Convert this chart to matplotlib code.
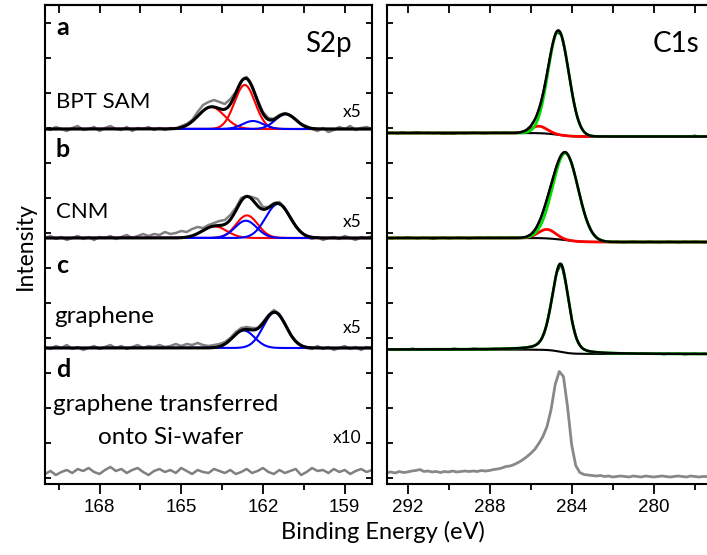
import numpy as np
import matplotlib.pyplot as plt
from matplotlib.ticker import MultipleLocator

plt.rcParams['font.family'] = ['Lato', 'DejaVu Sans']

RED, BLUE, GREEN = '#ff0000', '#0000ff', '#00dd00'

# S2p region, 170.0 -> 158.0 eV in 0.2 eV steps (intensity in plot units, above each baseline)
s2p_energy = np.linspace(170.0, 158.0, 61)

s2p_bpt = [1, -1, 2, 0, -2, 1, 3, -1, 0, 2,
           -2, 1, 3, 0, -1, 2, -2, 1, 0, 2,
           -1, 1, -1, 1, 0, 3, 5, 9, 17, 24,
           27, 29, 27, 25, 30, 37, 48, 52, 43, 29,
           17, 11, 10, 14, 16, 13, 10, 5, 3, 0,
           -2, 1, -3, -1, 2, 0, 3, -1, 1, 2,
           0]
s2p_cnm = [0, 2, -1, 1, -2, 0, 2, -1, 1, -2,
           1, 0, 2, -1, 1, 3, 0, 2, 4, 2,
           4, 3, 6, 4, 5, 7, 6, 9, 11, 10,
           13, 15, 17, 18, 23, 30, 40, 42, 41, 39,
           31, 31, 35, 36, 30, 20, 12, 6, 1, -1,
           1, -2, 0, 1, -1, 2, 0, -2, 1, 0,
           2]
s2p_graphene = [1, -1, 2, 0, 3, -1, 1, -2, 0, 2,
                -1, 1, 3, 0, 2, -1, 1, 3, 0, 2,
                1, 3, 1, 2, 4, 2, 4, 3, 5, 3,
                2, 3, 4, 6, 10, 16, 20, 21, 20, 20,
                26, 33, 38, 34, 25, 14, 7, 3, 0, -1,
                2, -1, 1, -2, 0, 2, -1, 1, -2, 1,
                0]
s2p_transfer = [-2, 1, -3, 0, 2, -1, 3, 1, 4, 0,
                -2, 2, 5, 1, 3, -1, 2, 4, 0, -3,
                1, 3, 0, 2, -1, 4, 1, -2, 2, 0,
                -1, 3, 1, -1, 2, -2, 0, 3, -1, 1,
                4, 0, -2, 2, -1, 1, 3, -3, 0, 4,
                1, 2, -1, 3, 0, 2, -2, 1, 3, 0,
                2]

# fitted S2p doublets: (center eV, height, FWHM eV, colour)
s2p_bpt_peaks = [(163.90, 22, 1.13, RED), (162.67, 44, 0.89, RED),
                 (162.37, 8, 0.89, BLUE), (161.17, 15, 0.89, BLUE)]
s2p_cnm_peaks = [(163.78, 11.6, 1.06, RED), (162.59, 22.6, 0.94, RED),
                 (162.63, 17.3, 0.94, BLUE), (161.45, 34, 1.06, BLUE)]
s2p_graphene_peaks = [(162.71, 17.5, 0.94, BLUE), (161.57, 35.5, 0.99, BLUE)]

s2p_offsets = [355, 246, 136, 12]

# C1s region, 293.0 -> 277.5 eV in 0.25 eV steps
c1s_energy = np.linspace(293.0, 277.5, 63)

c1s_bpt = [0, 0.5, -0.5, 1, 0, 0.5, 1, 0, 0.5, -0.5,
           0, -1, -0.5, -1, 0, -0.5, 0, 0.5, 0, -0.5,
           0, 0.5, 0, 0.5, 0, 0.5, 1, 2.5, 7, 15,
           30, 54, 82, 101, 98, 74, 43, 18, 4, -1.5,
           -3, -3.5, -4, -3.5, -3, -4, -3.5, -3, -4, -3.5,
           -3, -3.5, -4, -3, -3.5, -3, -4, -3.5, -3, -3.5,
           -2.5, -3.5, -3]
c1s_cnm = [0, -0.5, 0.5, 0, 1, 0, -0.5, 0.5, 0, -1,
           0, 0.5, -0.5, 0, 0.5, 0, -0.5, 0, 0.5, 0,
           0.5, 0, 0.5, 0, 0.5, 0.5, 0.5, 1, 3.5, 9.5,
           20, 36, 53.5, 71, 83, 85.5, 75, 55.5, 34.5, 17,
           6, 0, -2.5, -3.5, -4, -3.5, -4.5, -4, -3.5, -4,
           -4.5, -3.5, -4, -4.5, -4, -3.5, -4, -4.5, -3.5, -4,
           -3.5, -4, -4.5]
c1s_graphene = [0, 0.5, -0.5, 0.5, 0, 1, 0, -0.5, 0.5, 0,
                -0.5, 0.5, 0, 1, 0.5, 0, 0.5, 1, 0.5, 0,
                0.5, 1, 0.5, 1, 1, 1.5, 1.5, 2, 3, 4.5,
                9.5, 22, 47, 75.5, 85.5, 62, 31, 10.5, 1.5, -1.5,
                -2.5, -3, -3.5, -3.5, -4, -3.5, -4.5, -4, -4, -4.5,
                -3.5, -4, -4.5, -4, -5, -4, -4.5, -4, -5, -4.5,
                -4, -4.5, -4]

# transferred sample measured on a 0.2 eV grid, 293.0 -> 277.4 eV
c1s_transfer_energy = np.linspace(293.0, 277.4, 79)
c1s_transfer = [0, 0.5, -0.5, 1, 0, 0.5, 1.5, 2, 3, 1,
                1.5, 0.5, 1, 0, 1, 0.5, 1.5, 0.5, 1, 1.5,
                1, 1.5, 1, 2, 1.5, 2, 3, 3.5, 4.5, 6,
                6.5, 8, 10, 12.5, 15.5, 19, 23, 29, 36, 46,
                63, 88, 101, 96, 66, 28, 7, 0, -2, -2.5,
                -3, -3.5, -3, -4, -3.5, -4.5, -4, -3.5, -4, -4.5,
                -3.5, -4, -4.5, -3.5, -4, -4.5, -4, -3.5, -4, -4.5,
                -4, -3.5, -4, -4.5, -3.5, -4, -4.5, -4, -4]

# fitted C1s components: (center, height, FWHM high-BE side, FWHM low-BE side, lorentz fraction, colour)
c1s_bpt_peaks = [(284.64, 104, 1.18, 1.18, 0.0, GREEN), (285.60, 7, 0.94, 0.94, 0.0, RED)]
c1s_cnm_peaks = [(284.30, 87, 1.46, 1.46, 0.0, GREEN), (285.20, 9, 0.99, 0.99, 0.0, RED)]
c1s_graphene_peaks = [(284.54, 88, 0.98, 0.92, 0.3, GREEN)]
c1s_steps = [3.5, 4.0, 4.5]

c1s_offsets = [351, 246, 134.5, 11.5]


def peak(e, center, height, fwhm_hi, fwhm_lo, eta=0.0):
	w = np.where(e >= center, fwhm_hi, fwhm_lo)
	x = (e - center) / w
	g = np.exp(-4 * np.log(2) * x**2)
	l = 1 / (1 + 4 * x**2)
	return height * ((1 - eta) * g + eta * l)


def shirley(total, step):
	#energy runs high -> low, so the step builds up towards low binding energy
	area = np.cumsum(total)
	return -step * area / area[-1]


fig = plt.figure(figsize=(7.07, 5.55), dpi=100)
ax_s = fig.add_axes([45/707, 71/555, 327/707, 479/555])
ax_c = fig.add_axes([387/707, 71/555, 320/707, 479/555])

#S2p column
e_s = np.linspace(170.0, 158.0, 1201)
s2p_data = [s2p_bpt, s2p_cnm, s2p_graphene, s2p_transfer]
s2p_fits = [s2p_bpt_peaks, s2p_cnm_peaks, s2p_graphene_peaks, []]
for data, off, peaks in zip(s2p_data, s2p_offsets, s2p_fits):
	ax_s.plot(s2p_energy, off + np.array(data), color='#808080', lw=1.8)
	if not peaks:
		continue
	comps = [peak(e_s, c, h, w, w) for c, h, w, col in peaks]
	for comp, p in zip(comps, peaks):
		ax_s.plot(e_s, off + comp, color=p[3], lw=1.5)
	ax_s.plot(e_s, off + sum(comps), color='black', lw=2.2)

#C1s column
e_c = np.linspace(293.0, 277.4, 1561)
c1s_data = [c1s_bpt, c1s_cnm, c1s_graphene]
c1s_fits = [c1s_bpt_peaks, c1s_cnm_peaks, c1s_graphene_peaks]
for data, off, peaks, step in zip(c1s_data, c1s_offsets, c1s_fits, c1s_steps):
	ax_c.plot(c1s_energy, off + np.array(data), color='#303030', lw=1.4)
	comps = [peak(e_c, *p[:5]) for p in peaks]
	bg = shirley(sum(comps), step)
	ax_c.plot(e_c, off + bg, color='black', lw=1.5)
	for comp, p in reversed(list(zip(comps, peaks))):
		ax_c.plot(e_c, off + bg + comp, color=p[5], lw=2)
	ax_c.plot(e_c, off + bg + sum(comps), color='black', lw=1.8)
ax_c.plot(c1s_transfer_energy, c1s_offsets[3] + np.array(c1s_transfer), color='#888888', lw=2)

ax_s.set_xlim(170.0, 158.0)
ax_c.set_xlim(293.0, 277.4)
for ax, major, minor in [(ax_s, [168, 165, 162, 159], 1.5), (ax_c, [292, 288, 284, 280], 2)]:
	ax.set_ylim(0, 479)
	ax.set_xticks(major)
	ax.xaxis.set_minor_locator(MultipleLocator(minor))
	ax.set_yticks(np.arange(6, 479, 35))
	ax.tick_params(axis='x', which='major', direction='out', length=7, width=1.3, labelsize=13.5,
				   labelfontfamily='Liberation Sans', pad=4)
	ax.tick_params(axis='x', which='minor', direction='out', length=4, width=1.3)
	ax.tick_params(axis='y', direction='in', length=4, width=1.3, labelleft=False)
	for sp in ax.spines.values():
		sp.set_linewidth(1.5)
	top = ax.secondary_xaxis('top')
	top.set_xticks(major)
	top.xaxis.set_minor_locator(MultipleLocator(minor))
	top.tick_params(which='both', direction='in', length=6, width=1.3, labeltop=False)
	top.spines['top'].set_linewidth(1.5)

ax_s.tick_params(axis='y', right=True)
ax_c.spines['right'].set_visible(False)

#labels
for txt, y in zip(['a', 'b', 'c', 'd'], [449, 327, 211, 107]):
	ax_s.text(169.6, y, txt, fontsize=18, fontweight='bold', va='baseline')
ax_s.text(169.6, 376, 'BPT SAM', fontsize=16, va='baseline')
ax_s.text(169.6, 266, 'CNM', fontsize=16, va='baseline')
ax_s.text(169.65, 161, 'graphene', fontsize=17.5, va='baseline')
ax_s.text(169.7, 73, 'graphene transferred', fontsize=17.5, va='baseline')
ax_s.text(168.05, 40, 'onto Si-wafer', fontsize=17.5, va='baseline')
for txt, y in zip(['x5', 'x5', 'x5', 'x10'], [367, 257, 151, 41]):
	ax_s.text(158.37, y, txt, fontsize=12.5, ha='right', va='baseline')
ax_s.text(158.74, 432, 'S2p', fontsize=20, ha='right', va='baseline')
ax_c.text(277.76, 432, 'C1s', fontsize=20, ha='right', va='baseline')

fig.text(25/707, 0.557, 'Intensity', fontsize=16.5, rotation=90, ha='center', va='center')
fig.text(383/707, 16/555, 'Binding Energy (eV)', fontsize=17, ha='center', va='baseline')

fig.savefig('out.png', dpi=100)
